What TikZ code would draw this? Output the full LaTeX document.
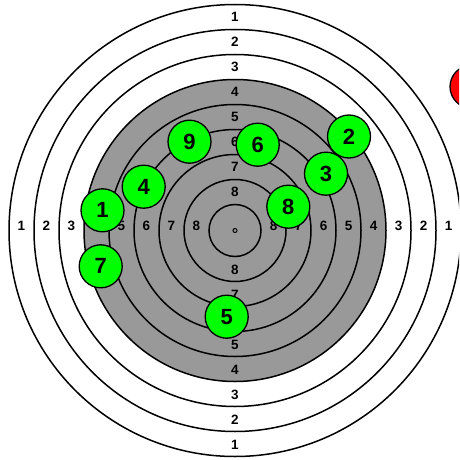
\documentclass[tikz,border=0pt]{standalone}
\usepackage{fontspec}
\setmainfont{Liberation Sans}
\usetikzlibrary{calc}
\begin{document}
\begin{tikzpicture}[x=1pt,y=-1pt,
  ring/.style={draw=black,line width=1.5pt},
  ringlabel/.style={font=\fontsize{13.5}{14}\selectfont\bfseries,inner sep=0pt,text=black},
  shot/.style={circle,draw=black,line width=1.3pt,fill=green!100,minimum size=43pt,inner sep=0pt,font=\fontsize{22}{23}\selectfont\bfseries},
  miss/.style={circle,draw=black,line width=1.3pt,fill=red,minimum size=43pt,inner sep=0pt}]
\useasboundingbox (0,0) rectangle (459,460);
\clip (0,0) rectangle (459,460);
\fill[white] (0,0) rectangle (459,460);
\coordinate (c) at (235,230.5);
% rings
\foreach \k in {1,2,3} {
  \pgfmathsetmacro{\r}{226-25*(\k-1)}
  \draw[ring,fill=white] (c) circle[radius=\r];
}
\draw[ring,fill={rgb,255:red,153;green,153;blue,153}] (c) circle[radius=151];
\foreach \k in {5,6,7,8,9} {
  \pgfmathsetmacro{\r}{226-25*(\k-1)}
  \draw[ring] (c) circle[radius=\r];
}
\draw[line width=1pt] (c) circle[radius=2];
% labels
\foreach \k in {1,...,8} {
  \pgfmathsetmacro{\lr}{226-25*(\k-1)-12.5}
  \node[ringlabel] (t\k) at ($(c)+(0,-\lr)$) {\k};
  \node[ringlabel] (b\k) at ($(c)+(0,\lr+1)$) {\k};
  \node[ringlabel] (l\k) at ($(c)+(-\lr,-4.5)$) {\k};
  \node[ringlabel] (r\k) at ($(c)+(\lr,-4.5)$) {\k};
}
% shots
\node[shot] (s1) at (102.5,210.3) {1};
\node[shot] (s2) at (349,136.5) {2};
\node[shot] (s3) at (326,173.7) {3};
\node[shot] (s4) at (143.7,186.7) {4};
\node[shot] (s5) at (226.7,316.7) {5};
\node[shot] (s6) at (257.7,144.7) {6};
\node[shot] (s7) at (100.7,266.3) {7};
\node[shot] (s8) at (288.3,206.7) {8};
\node[shot] (s9) at (189.5,141.7) {9};
\node[miss] (m) at (471.5,86.7) {};
\end{tikzpicture}
\end{document}
